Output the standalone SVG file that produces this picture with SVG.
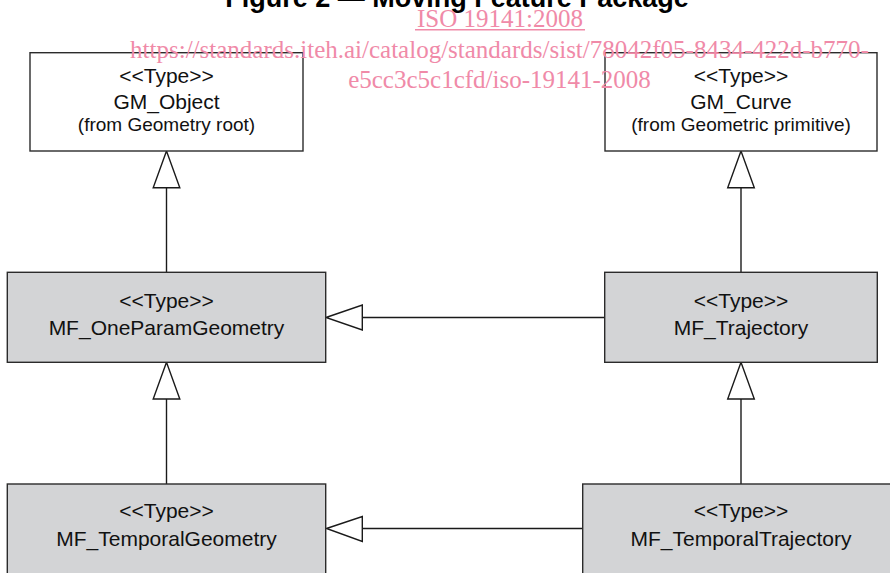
<svg xmlns="http://www.w3.org/2000/svg" width="890" height="573" viewBox="0 0 890 573">
  <defs>
    <style>
      .box { stroke: #2b2b2b; stroke-width: 1.4; }
      .white { fill: #ffffff; }
      .grey { fill: #d3d4d6; }
      .t { font-family: "Liberation Sans", Arial, sans-serif; fill: #111111; text-anchor: middle; }
      .main { font-size: 21px; }
      .sub { font-size: 19px; }
      .conn { stroke: #1a1a1a; stroke-width: 1.4; fill: none; }
      .head { stroke: #1a1a1a; stroke-width: 1.4; fill: #ffffff; stroke-linejoin: miter; }
      .wm { font-family: "Liberation Serif", "Times New Roman", serif; font-size: 25px; fill: #f08aa8; text-anchor: middle; }
      .title { font-family: "Liberation Sans", Arial, sans-serif; font-size: 27px; font-weight: bold; fill: #000000; text-anchor: middle; }
    </style>
  </defs>
  <rect x="0" y="0" width="890" height="573" fill="#ffffff"/>

  <text class="title" x="457" y="7">Figure 2 — Moving Feature Package</text>

  <g id="connectors">
    <line class="conn" x1="166.5" y1="272" x2="166.5" y2="187.7"/>
    <polygon class="head" points="166.5,151 153.2,187.7 179.8,187.7"/>
    <line class="conn" x1="741" y1="272" x2="741" y2="187.7"/>
    <polygon class="head" points="741,151 727.7,187.7 754.3,187.7"/>
    <line class="conn" x1="605" y1="317.5" x2="362.3" y2="317.5"/>
    <polygon class="head" points="326,317.5 362.3,305 362.3,330"/>
    <line class="conn" x1="166.5" y1="484" x2="166.5" y2="399"/>
    <polygon class="head" points="166.5,362.3 153.2,399 179.8,399"/>
    <line class="conn" x1="741" y1="484" x2="741" y2="399"/>
    <polygon class="head" points="741,362.3 727.7,399 754.3,399"/>
    <line class="conn" x1="583" y1="528.5" x2="362.3" y2="528.5"/>
    <polygon class="head" points="326.5,528.5 362.3,516.5 362.3,541.5"/>
  </g>

  <g id="GM_Object">
    <rect class="box white" x="30" y="52.7" width="273" height="98.3"/>
    <text class="t main" x="166.5" y="83.3">&lt;&lt;Type&gt;&gt;</text>
    <text class="t main" x="166.5" y="109">GM_Object</text>
    <text class="t sub" x="166.5" y="131">(from Geometry root)</text>
  </g>

  <g id="GM_Curve">
    <rect class="box white" x="605" y="52.7" width="272" height="98.3"/>
    <text class="t main" x="741" y="83.3">&lt;&lt;Type&gt;&gt;</text>
    <text class="t main" x="741" y="109">GM_Curve</text>
    <text class="t sub" x="741" y="131">(from Geometric primitive)</text>
  </g>

  <g id="MF_OneParamGeometry">
    <rect class="box grey" x="7.3" y="272.3" width="318.4" height="90"/>
    <text class="t main" x="166.5" y="308.3">&lt;&lt;Type&gt;&gt;</text>
    <text class="t main" x="166.5" y="335">MF_OneParamGeometry</text>
  </g>

  <g id="MF_Trajectory">
    <rect class="box grey" x="604.7" y="272.3" width="272.6" height="90"/>
    <text class="t main" x="741" y="308.3">&lt;&lt;Type&gt;&gt;</text>
    <text class="t main" x="741" y="335">MF_Trajectory</text>
  </g>

  <g id="MF_TemporalGeometry">
    <rect class="box grey" x="7.3" y="484" width="318.4" height="100"/>
    <text class="t main" x="166.5" y="518.3">&lt;&lt;Type&gt;&gt;</text>
    <text class="t main" x="166.5" y="546">MF_TemporalGeometry</text>
  </g>

  <g id="MF_TemporalTrajectory">
    <rect class="box grey" x="582.7" y="484" width="320" height="100"/>
    <text class="t main" x="741" y="518.3">&lt;&lt;Type&gt;&gt;</text>
    <text class="t main" x="741" y="546">MF_TemporalTrajectory</text>
  </g>

  <g id="watermark">
    <text class="wm" x="500" y="27">ISO 19141:2008</text>
    <line x1="415" y1="29.8" x2="585" y2="29.8" stroke="#f08aa8" stroke-width="1.4"/>
    <text class="wm" x="499.5" y="58">https://standards.iteh.ai/catalog/standards/sist/78042f05-8434-422d-b770-</text>
    <text class="wm" x="499.5" y="88">e5cc3c5c1cfd/iso-19141-2008</text>
  </g>
</svg>
